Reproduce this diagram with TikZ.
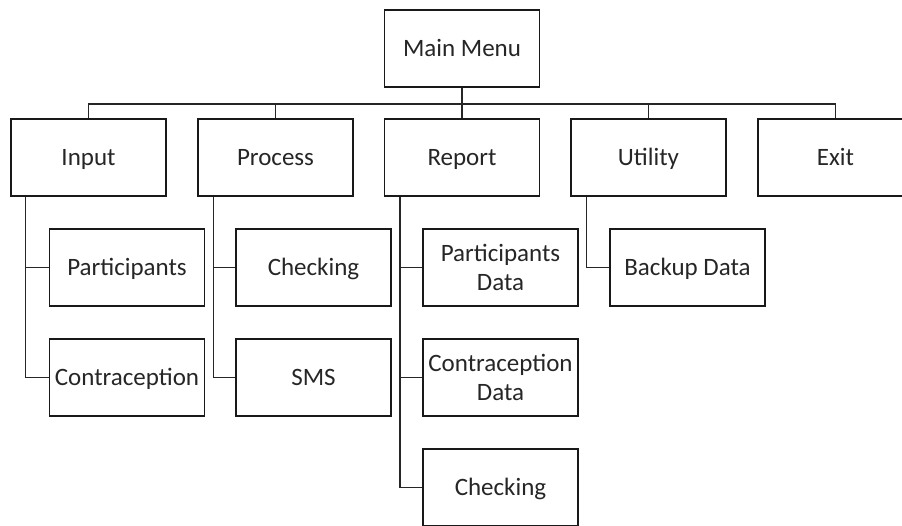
\documentclass[tikz,border=0pt]{standalone}
\usepackage{fontspec}
\setmainfont{Carlito}
\begin{document}
\begin{tikzpicture}[x=1pt,y=-1pt,
  menubox/.style={draw=black!90, line width=1.5pt, minimum width=155pt, minimum height=77pt,
    inner sep=0pt, align=center, font=\fontsize{25}{29}\selectfont, text=black!85},
  oneline/.style={menubox, text height=20pt, text depth=3.5pt},
  link/.style={draw=black!85, line width=1.5pt}]
\useasboundingbox (0,0) rectangle (902,525);
\clip (0,0) rectangle (902,525);

% top level
\node[oneline] (mm) at (462,48.5) {Main Menu};
\node[oneline] (input) at (88.5,157.5) {Input};
\node[oneline] (process) at (275.5,157.5) {Process};
\node[oneline] (report) at (462,157.5) {Report};
\node[oneline] (utility) at (648.5,157.5) {Utility};
\node[oneline] (exit) at (835.5,157.5) {Exit};

% sub menus
\node[oneline] (part) at (127,267.5) {Participants};
\node[oneline] (contr) at (127,377.5) {Contraception};
\node[oneline] (check) at (313.5,267.5) {Checking};
\node[oneline] (sms) at (313.5,377.5) {SMS};
\node[menubox] (pdata) at (500.5,267.5) {Participants\\Data};
\node[menubox] (cdata) at (500.5,377.5) {Contraception\\Data};
\node[oneline] (rcheck) at (500.5,487.5) {Checking};
\node[oneline] (backup) at (687.5,267.5) {Backup Data};

% bus from the main menu
\coordinate (bus) at ([yshift=-16pt]mm.south);
\draw[link] (mm.south) -- (bus);
\foreach \n in {input,process,report,utility,exit}
  \draw[link] (bus) -| (\n.north);

% branches to the sub menus
\coordinate (inB) at ([xshift=15pt]input.south west);
\coordinate (prB) at ([xshift=16pt]process.south west);
\coordinate (reB) at ([xshift=16pt]report.south west);
\coordinate (utB) at ([xshift=16pt]utility.south west);
\draw[link] (inB) |- (part.west);
\draw[link] (inB) |- (contr.west);
\draw[link] (prB) |- (check.west);
\draw[link] (prB) |- (sms.west);
\draw[link] (reB) |- (pdata.west);
\draw[link] (reB) |- (cdata.west);
\draw[link] (reB) |- (rcheck.west);
\draw[link] (utB) |- (backup.west);
\end{tikzpicture}
\end{document}
